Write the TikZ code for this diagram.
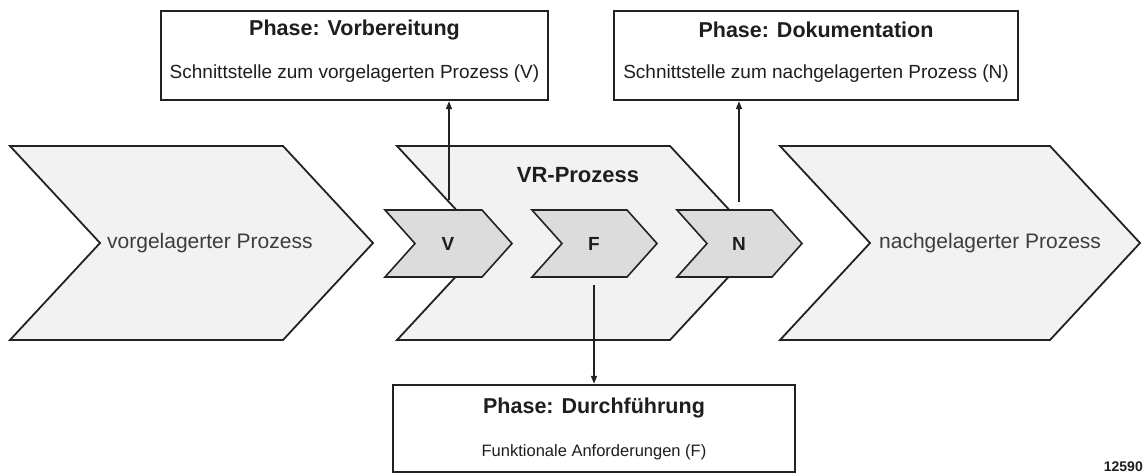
\documentclass[tikz,border=0pt]{standalone}
\usepackage{fontspec}
\setmainfont{Liberation Sans}
\usetikzlibrary{arrows.meta}

\definecolor{outline}{HTML}{222222}
\definecolor{bigfill}{HTML}{F2F2F2}
\definecolor{smallfill}{HTML}{DCDCDC}
\definecolor{labelgray}{HTML}{3C3C3C}
\definecolor{ink}{HTML}{1E1E1E}

\tikzset{
  bigchev/.style={draw=outline, fill=bigfill, line width=1.8pt, line join=miter},
  smallchev/.style={draw=outline, fill=smallfill, line width=1.6pt, line join=miter},
  chevtext/.style={text=labelgray, font=\fontsize{21}{25}\selectfont, anchor=west, inner sep=0pt},
  steptext/.style={text=ink, font=\bfseries\fontsize{19}{23}\selectfont, inner sep=0pt},
  phasebox/.style={draw=outline, line width=2.4pt, fill=white, inner sep=0pt},
  phasetitle/.style={text=ink, font=\bfseries\fontsize{21.5}{25}\selectfont, inner sep=0pt},
  phasesub/.style={text=ink, font=\fontsize{19}{23}\selectfont, inner sep=0pt},
  link/.style={draw=outline, line width=1.6pt, -{Triangle[length=8pt,width=6pt]}},
}

\begin{document}
\begin{tikzpicture}[x=1pt, y=-1pt]
  \useasboundingbox (0,0) rectangle (1144,475);

  % large process chevrons
  \path[bigchev] (10,146) -- (283,146) -- (373,243) -- (283,340) -- (10,340) -- (100,243) -- cycle;
  \path[bigchev] (397,146) -- (670,146) -- (760,243) -- (670,340) -- (397,340) -- (487,243) -- cycle;
  \path[bigchev] (780,146) -- (1050,146) -- (1140,243) -- (1050,340) -- (780,340) -- (870,243) -- cycle;

  \node[chevtext] (vorg) at (107,243) {vorgelagerter Prozess};
  \node[chevtext] (nachg) at (879,243) {nachgelagerter Prozess};
  \node[text=ink, font=\bfseries\fontsize{22}{26}\selectfont, inner sep=0pt] (vr) at (578,175) {VR-Prozess};

  % phase chevrons inside the VR process
  \path[smallchev] (385,210) -- (482,210) -- (512,243.5) -- (482,277) -- (385,277) -- (415,243.5) -- cycle;
  \path[smallchev] (532,210) -- (627,210) -- (657,243.5) -- (627,277) -- (532,277) -- (562,243.5) -- cycle;
  \path[smallchev] (677,210) -- (772,210) -- (802,243.5) -- (772,277) -- (677,277) -- (707,243.5) -- cycle;

  \node[steptext] (pV) at (448,244) {V};
  \node[steptext] (pF) at (594,244) {F};
  \node[steptext] (pN) at (739,244) {N};

  % phase description boxes
  \node[phasebox, minimum width=387pt, minimum height=89pt] (boxV) at (354.5,55.5) {};
  \node[phasetitle] (tV) at (354.5,30) {Phase: Vorbereitung};
  \node[phasesub] (sV) at (354.5,74) {Schnittstelle zum vorgelagerten Prozess (V)};

  \node[phasebox, minimum width=404pt, minimum height=89pt] (boxN) at (816,55.5) {};
  \node[phasetitle] (tN) at (816,30) {Phase: Dokumentation};
  \node[phasesub] (sN) at (816,74) {Schnittstelle zum nachgelagerten Prozess (N)};

  \node[phasebox, minimum width=402pt, minimum height=87pt] (boxF) at (594,428.5) {};
  \node[phasetitle] (tF) at (594,408) {Phase: Durchführung};
  \node[phasesub, font=\fontsize{16.5}{20}\selectfont] (sF) at (594,452) {Funktionale Anforderungen (F)};

  % links from the phases to their descriptions
  \coordinate (vOut) at (449,200);
  \coordinate (nOut) at (739,202);
  \coordinate (fOut) at (594,285);
  \draw[link] (vOut) -- (boxV.south -| vOut);
  \draw[link] (nOut) -- (boxN.south -| nOut);
  \draw[link] (fOut) -- (boxF.north -| fOut);

  \node[text=ink, font=\bfseries\fontsize{14}{16}\selectfont, anchor=north east, inner sep=0pt] (num) at (1143,462) {12590};
\end{tikzpicture}
\end{document}
